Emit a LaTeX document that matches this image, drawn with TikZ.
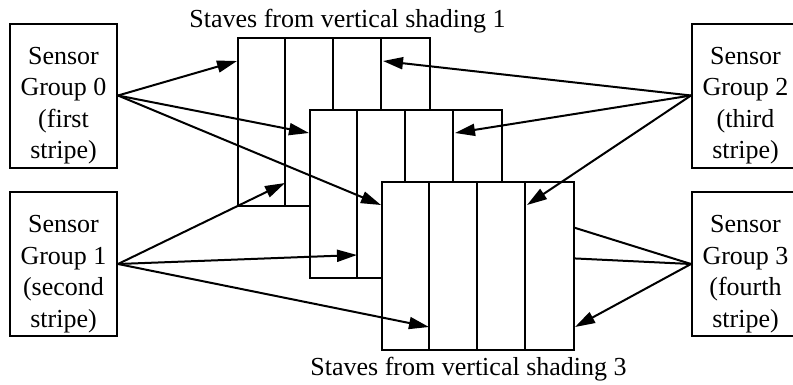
\documentclass[tikz,border=0pt]{standalone}
\usepackage{fontspec}
\setmainfont{Liberation Serif}
\usetikzlibrary{arrows.meta}
\begin{document}
\begin{tikzpicture}[x=1pt,y=-1pt,line width=2pt,
  grp/.style={draw, minimum width=107pt, minimum height=144pt, inner sep=0pt},
  txt/.style={align=center, font=\fontsize{26}{31.5}\selectfont, inner sep=0pt},
  lbl/.style={font=\fontsize{26}{31.5}\selectfont, inner sep=0pt},
  stave/.style={draw, fill=white, minimum width=192pt, minimum height=168pt, inner sep=0pt, anchor=north west},
  arr/.style={-{Triangle[length=20pt,width=12pt]}}]
\clip (0,0) rectangle (793,384);
\fill[white] (0,0) rectangle (793,384);
% sensor groups
\node[grp] (g0) at (63.5,95.5) {};
\node[grp] (g1) at (63.5,264) {};
\node[grp] (g2) at (745.5,95.5) {};
\node[grp] (g3) at (745.5,264) {};
\node[txt, yshift=-10pt] (t0) at (g0.center) {Sensor\\Group 0\\(first\\stripe)};
\node[txt, yshift=-10pt] (t1) at (g1.center) {Sensor\\Group 1\\(second\\stripe)};
\node[txt, yshift=-10pt] (t2) at (g2.center) {Sensor\\Group 2\\(third\\stripe)};
\node[txt, yshift=-10pt] (t3) at (g3.center) {Sensor\\Group 3\\(fourth\\stripe)};
% staves
\foreach \k/\X/\Y in {1/237/37, 2/309/109, 3/381/181} {
  \node[stave] (s\k) at (\X,\Y) {};
  \foreach \d in {48,96,144}
    \draw ([xshift=\d pt]s\k.north west) -- ([xshift=\d pt]s\k.south west);
  \coordinate (a\k) at ([yshift=-24pt]s\k.north west);
  \coordinate (b\k) at ([xshift=48pt,yshift=24pt]s\k.south west);
  \coordinate (c\k) at ([xshift=-48pt,yshift=-24pt]s\k.north east);
  \coordinate (d\k) at ([yshift=24pt]s\k.south east);
  \draw[arr] (g0.east) -- (a\k);
  \draw[arr] (g1.east) -- (b\k);
  \draw[arr] (g2.west) -- (c\k);
  \draw[arr] (g3.west) -- (d\k);
}
\node[lbl, anchor=base] (top) at (347.5,27) {Staves from vertical shading 1};
\node[lbl, anchor=base] (bot) at (468.5,375) {Staves from vertical shading 3};
\end{tikzpicture}
\end{document}
